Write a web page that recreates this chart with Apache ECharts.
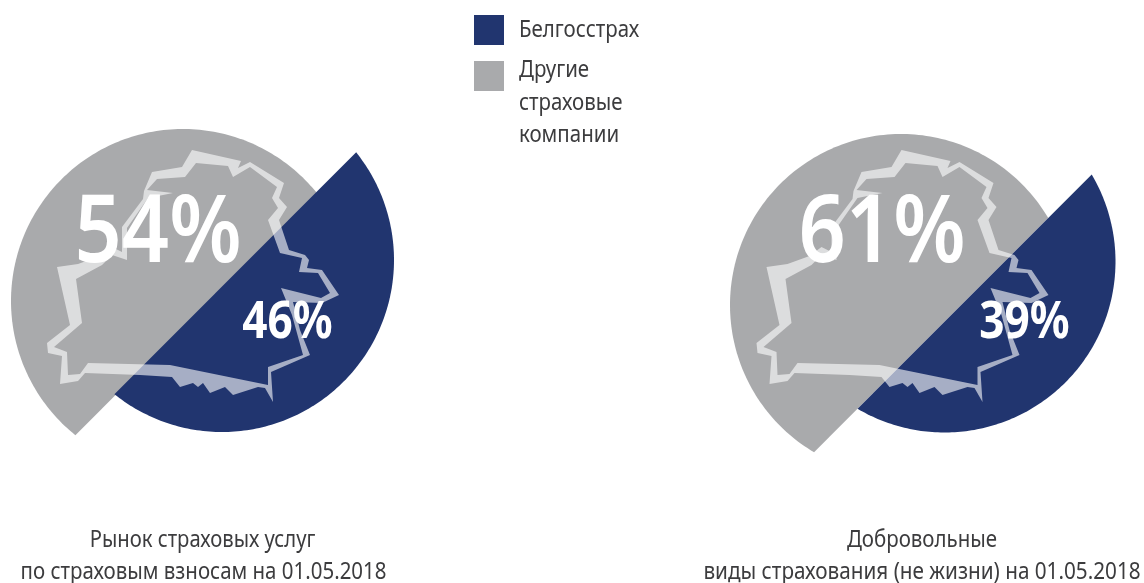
<!DOCTYPE html>
<html><head><meta charset="utf-8">
<style>html,body{margin:0;padding:0;background:#fff}#c{width:1144px;height:583px}</style>
<script src="https://cdn.jsdelivr.net/npm/echarts@6/dist/echarts.min.js"></script>
</head><body><div id="c"></div>
<script>
// --- data ---
const categories = ['Рынок страховых услуг\nпо страховым взносам на 01.05.2018',
                    'Добровольные\nвиды страхования (не жизни) на 01.05.2018'];
const belgosstrakh = [46, 39];
const others = [54, 61];
const seriesNames = ['Белгосстрах', 'Другие страховые компании'];
const legendLines = ['Белгосстрах', 'Другие\nстраховые\nкомпании'];

// --- layout and style ---
const NAVY = '#21356f', GRAY = '#a9aaac', TEXT = '#3c3c3e', FONT = '"Noto Sans"';
const panels = [
  {r:172, gray:[183,301], navy:[222,260], dx:0,     big:[158,235],  small:[287.5,323]},
  {r:171, gray:[901,305], navy:[944.5,261.5], dx:709.5, big:[882,235], small:[1024.5,323]}
];
const titleLayout = [
  [{x:202.5,y:540,sx:.88},{x:203.5,y:572.5,sx:.89}],
  [{x:922,y:540,sx:.89},{x:922,y:572.5,sx:.9}]
];
const outerRing = [[57,267],[78,264],[100,256],[112,247],[122,252],[122,227],[143,199],[144,191],[152,172],[182,167],[192,150],[241,161],[238,168],[250,162],[284,183],[279,198],[287,207],[279,220],[289,250],[305,255],[309,260],[307,268],[322,270],[339,295],[322,303],[293,302],[300,330],[310,355],[271,372],[273,402],[265,388],[258,387],[233,395],[225,387],[210,393],[203,383],[198,387],[193,383],[180,387],[172,377],[140,375],[85,373],[78,381],[60,384],[62,356],[48,353],[47,343],[70,325]];
const innerRing = [[76,279],[102,265],[112,255],[127,260],[127,228],[148,198],[173,193],[147,190],[157,179],[185,177],[196,163],[228,166],[233,177],[250,167],[277,187],[272,198],[278,208],[268,220],[280,253],[302,258],[299,272],[318,273],[330,293],[321,298],[281,288],[292,315],[303,355],[268,367],[268,385],[170,365],[88,363],[80,374],[68,375],[67,352],[54,347],[82,323]];
const ringPoints = outerRing.concat([outerRing[0]], [innerRing[0]], innerRing.slice(1).reverse(), [innerRing[0]]);

// A segment of a circle: the chord sits at a distance set by the share of the diameter.
function segment(center, r, share, dir, sign) {
  const s = r * (1 - 2 * share / 100) + sign * 5;
  const a = Math.acos(s / r), pts = [];
  for (let i = 0; i <= 160; i++) {
    const t = dir - a + 2 * a * i / 160;
    pts.push([center[0] + r * Math.cos(t), center[1] + r * Math.sin(t)]);
  }
  return pts;
}
function segmentSeries(name, values, key, color, dir, sign) {
  return {
    type:'custom', name, coordinateSystem:'none', z:2, silent:true, animation:false,
    data: values.map((v,i)=>[i,v]),
    itemStyle:{color},
    renderItem:(p,api)=>{
      const pn = panels[api.value(0)];
      return {type:'polygon', shape:{points:segment(pn[key], pn.r, api.value(1), dir, sign)}, style:{fill:color}};
    }
  };
}
function labelSeries(name, values, key, size, sx, weight) {
  return {
    type:'custom', name, coordinateSystem:'none', z:4, silent:true, animation:false,
    data: values.map((v,i)=>[i,v]),
    renderItem:(p,api)=>{
      const pn = panels[api.value(0)];
      return {type:'text', x:pn[key][0], y:pn[key][1], scaleX:sx,
        style:{text:api.value(1)+'%', fill:'#fff', font:`${weight} ${size}px ${FONT}`, align:'center', verticalAlign:'middle'}};
    }
  };
}
const titleGraphics = [];
categories.forEach((c,i)=>c.split('\n').forEach((line,j)=>{
  const l = titleLayout[i][j];
  titleGraphics.push({type:'text', x:l.x, y:l.y, scaleX:l.sx,
    style:{text:line, fill:TEXT, font:`400 23px ${FONT}`, align:'center', verticalAlign:'middle'}});
}));
const chart = echarts.init(document.getElementById('c'), null, {renderer:'canvas'});
chart.setOption({
  animation:false,
  backgroundColor:'#fff',
  series:[
    segmentSeries(seriesNames[1], others, 'gray', GRAY, Math.PI*1.25, -1),
    segmentSeries(seriesNames[0], belgosstrakh, 'navy', NAVY, Math.PI*0.25, 1),
    {type:'custom', name:'outline', coordinateSystem:'none', z:3, silent:true, animation:false,
     data:panels.map((p,i)=>[i]),
     renderItem:(p,api)=>{
       const dx = panels[api.value(0)].dx;
       return {type:'polygon', shape:{points:ringPoints.map(q=>[q[0]+dx,q[1]])}, style:{fill:'rgba(255,255,255,0.6)'}};
     }},
    labelSeries('others-label', others, 'big', 94, .88, 600),
    labelSeries('belgosstrakh-label', belgosstrakh, 'small', 52, .85, 700)
  ],
  graphic:[
    {type:'rect', shape:{x:474,y:15,width:30,height:30}, style:{fill:NAVY}},
    {type:'rect', shape:{x:474,y:61,width:30,height:30}, style:{fill:GRAY}},
    {type:'text', x:519, y:30, scaleX:.89, style:{text:legendLines[0], fill:TEXT, font:`400 23px ${FONT}`, verticalAlign:'middle'}},
    {type:'text', x:519, y:103, scaleX:.89, style:{text:legendLines[1], fill:TEXT, font:`400 23px ${FONT}`, lineHeight:32.5, verticalAlign:'middle'}}
  ].concat(titleGraphics)
});
</script></body></html>
